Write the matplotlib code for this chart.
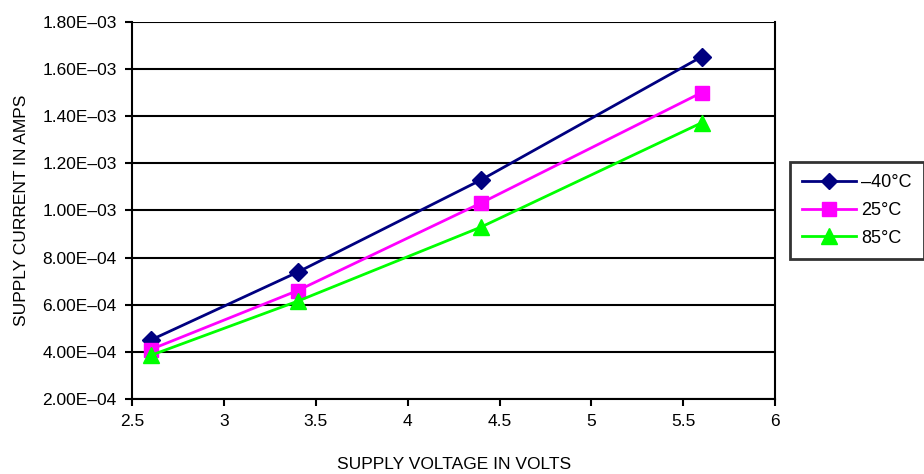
import matplotlib
matplotlib.use("Agg")
import matplotlib.pyplot as plt
from matplotlib.ticker import FuncFormatter

plt.rcParams['font.family'] = ['Liberation Sans', 'DejaVu Sans']

voltage = [2.6, 3.4, 4.4, 5.6]
i_m40 = [4.5e-4, 7.38e-4, 1.13e-3, 1.652e-3]
i_25 = [4.1e-4, 6.6e-4, 1.032e-3, 1.50e-3]
i_85 = [3.85e-4, 6.15e-4, 9.3e-4, 1.372e-3]
labels = ['\u201340\u00b0C', '25\u00b0C', '85\u00b0C']

fig = plt.figure(figsize=(9.24, 4.74), dpi=100)
ax = fig.add_axes([0.143, 0.158, 0.696, 0.796])

ax.plot(voltage, i_m40, color='#000080', marker='D', markersize=9, lw=2, label=labels[0])
ax.plot(voltage, i_25, color='#ff00ff', marker='s', markersize=10, lw=2, label=labels[1])
ax.plot(voltage, i_85, color='#00ff00', marker='^', markersize=12, lw=2, label=labels[2])

ax.set_xlim(2.5, 6)
ax.set_ylim(2e-4, 1.8e-3)
ax.set_xticks([2.5, 3, 3.5, 4, 4.5, 5, 5.5, 6])
ax.set_xticklabels(['2.5', '3', '3.5', '4', '4.5', '5', '5.5', '6'])
ax.set_yticks([2e-4 * k for k in range(1, 10)])

def fmt(v, pos):
    s = '%.2E' % v
    return s.replace('-', '\u2013')
ax.yaxis.set_major_formatter(FuncFormatter(fmt))

ax.grid(axis='y', color='black', lw=1.5)
ax.set_axisbelow(True)
for s in ['left', 'bottom', 'right']:
    ax.spines[s].set_linewidth(1.5)
ax.spines['top'].set_visible(False)
ax.tick_params(direction='out', length=5, width=1.5, labelsize=12.5, pad=6)

ax.set_xlabel('SUPPLY VOLTAGE IN VOLTS', fontsize=12.5, labelpad=20)
ax.set_ylabel('SUPPLY CURRENT IN AMPS', fontsize=12.5, labelpad=10)

leg = ax.legend(loc='center left', bbox_to_anchor=(1.023, 0.5), borderaxespad=0,
                fontsize=13, frameon=True, fancybox=False, edgecolor='black',
                borderpad=0.65, handlelength=3.0, handletextpad=0.3,
                labelspacing=0.6, markerscale=0.95)
leg.get_frame().set_linewidth(2)

fig.savefig('out.png', dpi=100)
